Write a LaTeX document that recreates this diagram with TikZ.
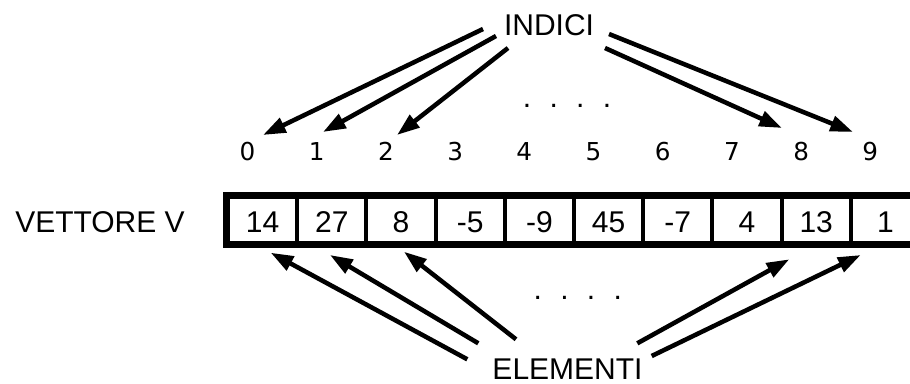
\documentclass[tikz,border=0pt]{standalone}
\usepackage{fontspec}
\setmainfont{Liberation Sans}
\newfontfamily\idxfont{DejaVu Sans}
\usetikzlibrary{arrows.meta}
\begin{document}
\begin{tikzpicture}[x=0.75pt,y=-0.75pt,
  lbl/.style={font=\fontsize{22.5}{27}\selectfont, inner sep=0pt, anchor=base},
  idx/.style={font=\idxfont\fontsize{18.5}{22}\selectfont, inner sep=0pt, anchor=base},
  cell/.style={draw, line width=3pt, minimum width=51.9pt, minimum height=34.5pt,
    inner sep=0pt, font=\fontsize{22.5}{27}\selectfont, text height=18pt, text depth=0pt},
  arr/.style={line width=3.4pt, -{Triangle[length=17pt,width=11.5pt]}}]
\useasboundingbox (0,0) rectangle (910,383);
% labels
\node[lbl] (indici) at (549,35) {INDICI};
\node[lbl] (elementi) at (567.5,379.5) {ELEMENTI};
\node[lbl] (vettore) at (100,232) {VETTORE V};
\node[lbl] (dtop) at (567,107) {.\hspace{13.75pt}.\hspace{13.75pt}.\hspace{13.75pt}.};
\node[lbl] (dbot) at (577.75,299) {.\hspace{13.75pt}.\hspace{13.75pt}.\hspace{13.75pt}.};
% indices
\foreach \k in {0,...,9}{
  \node[idx] (i\k) at ({247.5+69.2*\k},160) {\k};
}
% cells
\foreach \v [count=\n from 0] in {14,27,8,-5,-9,45,-7,4,13,1}{
  \node[cell] (c\n) at ({262.6+69.2*\n},220) {\v};
}
\draw[line width=4pt] (c0.north west) rectangle (c9.south east);
% arrows from INDICI
\draw[arr] ([shift={(-66,-6)}]indici.base) -- ([shift={(15.5,-25)}]i0.base);
\draw[arr] ([shift={(-53,1)}]indici.base) -- ([shift={(6.3,-28)}]i1.base);
\draw[arr] ([shift={(-41,13)}]indici.base) -- ([shift={(11.1,-25)}]i2.base);
\draw[arr] ([shift={(56,13)}]indici.base) -- ([shift={(-19.1,-32)}]i8.base);
\draw[arr] ([shift={(60,-1)}]indici.base) -- ([shift={(-17.3,-28)}]i9.base);
% arrows from ELEMENTI
\draw[arr] ([shift={(-100.2,-20.2)}]elementi.base) -- ([shift={(8.1,32.7)}]c0.center);
\draw[arr] ([shift={(-89.2,-36.2)}]elementi.base) -- ([shift={(-1.8,35)}]c1.center);
\draw[arr] ([shift={(-51.5,-40.2)}]elementi.base) -- ([shift={(3,31.7)}]c2.center);
\draw[arr] ([shift={(69.8,-36.2)}]elementi.base) -- ([shift={(-26.9,39.3)}]c8.center);
\draw[arr] ([shift={(84.2,-23.5)}]elementi.base) -- ([shift={(-24.7,35)}]c9.center);
\end{tikzpicture}
\end{document}
